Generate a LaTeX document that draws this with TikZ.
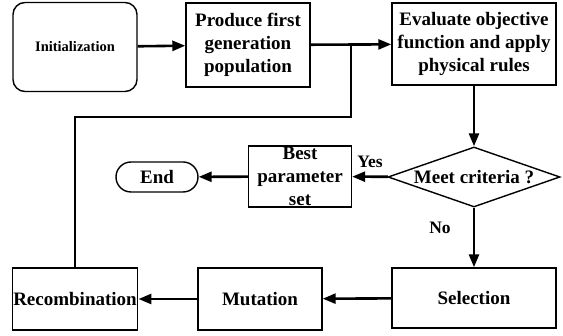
\documentclass[tikz,border=0pt]{standalone}
\usepackage{fontspec}
\setmainfont{Liberation Serif}
\usetikzlibrary{arrows.meta,shapes.geometric}
\tikzset{
  box/.style={draw,line width=1.4pt,align=center,inner sep=1pt,font=\bfseries\fontsize{19}{23}\selectfont},
  roundbox/.style={box,rounded corners=12pt},
  pill/.style={box,rounded corners=15pt},
  decision/.style={box,diamond,aspect=2.87,inner sep=0pt},
  flow/.style={line width=2.6pt,-{Triangle[length=13pt,width=10pt]}},
  tag/.style={font=\bfseries\fontsize{17.5}{20}\selectfont}
}
\begin{document}
\begin{tikzpicture}[x=1pt,y=-1pt]
\useasboundingbox (0,0) rectangle (563,336);
\node[roundbox,minimum width=124pt,minimum height=89pt,font=\bfseries\fontsize{14.5}{17}\selectfont] (init) at (75,47) {Initialization};
\node[box,minimum width=124pt,minimum height=84pt] (produce) at (248,45) {Produce first\\generation\\population};
\node[box,minimum width=164pt,minimum height=82pt] (evaluate) at (474,44) {Evaluate objective\\function and apply\\physical rules};
\node[decision,minimum width=172pt,minimum height=60pt] (crit) at (474,177) {Meet criteria ?};
\node[box,minimum width=103pt,minimum height=61pt] (best) at (300,176.5) {Best\\parameter\\set};
\node[pill,minimum width=82pt,minimum height=30pt] (end) at (157,177) {End};
\node[box,minimum width=164pt,minimum height=60pt] (sel) at (474,298) {Selection};
\node[box,minimum width=124pt,minimum height=62pt] (mut) at (260,299) {Mutation};
\node[box,minimum width=123pt,minimum height=62pt] (rec) at (75,299) {Recombination};
\node[tag] (yes) at (370,162) {Yes};
\node[tag] (no) at (440,228) {No};
\coordinate (turn) at (351,117);
\coordinate (join) at (351,45);
\draw[flow] (init) -- (produce);
\draw[flow] (produce) -- (evaluate);
\draw[line width=2.6pt] (rec.north) |- (turn) -- (join);
\draw[flow] (evaluate) -- (crit);
\draw[flow] (crit) -- (best);
\draw[flow] (best) -- (end);
\draw[flow] (crit) -- (sel);
\draw[flow] (sel) -- (mut);
\draw[flow] (mut) -- (rec);
\end{tikzpicture}
\end{document}
